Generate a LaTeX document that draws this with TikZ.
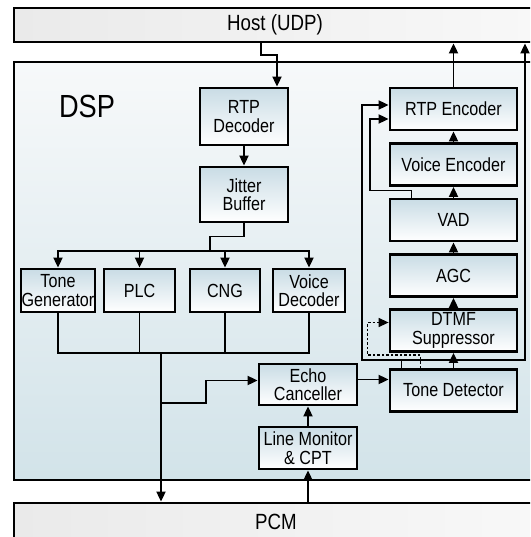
\documentclass[tikz,border=0pt]{standalone}
\usepackage{fontspec}
\setmainfont[FakeStretch=0.85]{Liberation Sans}
\usetikzlibrary{arrows.meta, calc, positioning}
\definecolor{boxtop}{HTML}{C9DCE5}
\definecolor{dsptop}{HTML}{F7F9FA}
\definecolor{dspbot}{HTML}{D2E3E9}
\definecolor{barleft}{HTML}{EAEAEA}
\definecolor{barright}{HTML}{F8F8F8}

\begin{document}
\begin{tikzpicture}[x=1pt, y=-1pt,
  blk/.style={shape=rectangle, draw=black, line width=2.8pt, top color=boxtop, bottom color=white, inner sep=0pt, align=center, font=\fontsize{19}{18.5}\selectfont},
  bar/.style={shape=rectangle, draw=black, line width=2.8pt, left color=barleft, right color=barright, inner sep=0pt, font=\fontsize{22}{22}\selectfont},
  wire/.style={line width=1.8pt, line cap=rect},
  arr/.style={line width=1.8pt, -{Triangle[length=10pt,width=9pt]}}]
\clip (0,0) rectangle (530,537);
% host, dsp and pcm areas
\node[bar, minimum width=522, minimum height=34] (host) at (275,25) {Host (UDP)};
\node[shape=rectangle, draw=black, line width=2.8pt, top color=dsptop, bottom color=dspbot, minimum width=531, minimum height=418] (dsp) at (279.5,271) {};
\node[bar, minimum width=524, minimum height=38] (pcm) at (276,522) {PCM};
\node[font=\fontsize{32}{32}\selectfont] (dsplabel) at (87,106) {DSP};

% receive side
\node[blk, minimum width=88, minimum height=57] (rtpdec) at (244,116.5) {RTP\\Decoder};
\node[blk, minimum width=88, minimum height=55] (jitter) at (244,194.5) {Jitter\\Buffer};
\node[blk, minimum width=74, minimum height=43] (tonegen) at (58,290.5) {Tone\\Generator};
\node[blk, minimum width=71, minimum height=43] (plc) at (139.5,290.5) {PLC};
\node[blk, minimum width=70, minimum height=43] (cng) at (225,290.5) {CNG};
\node[blk, minimum width=72, minimum height=43] (voicedec) at (309,290.5) {Voice\\Decoder};

% line side
\node[blk, minimum width=98, minimum height=41] (echo) at (308,384.5) {Echo\\Canceller};
\node[blk, minimum width=98, minimum height=42] (linemon) at (308,448) {Line Monitor\\\& CPT};

% send side
\foreach \n/\t/\y in {rtpenc/RTP Encoder/109, voiceenc/Voice Encoder/164.5, vad/VAD/220, agc/AGC/275.5, dtmf/{DTMF\\Suppressor}/330.5, tonedet/Tone Detector/390.5}{
	\node[blk, minimum width=127, minimum height=42] (\n) at (453.5,\y) {\t};
}

% connectors
\draw[arr] ([xshift=-14]host.south) -- ++(0,12) -| ([xshift=33]rtpdec.north);
\draw[arr] (rtpdec) -- (jitter);
\coordinate (split) at (210,251);
\draw[wire] (jitter.south) -- ++(0,13) -| (split);
\draw[wire] (tonegen.north |- split) -- (voicedec.north |- split);
\coordinate (merge) at (161,353);
\foreach \n in {tonegen,plc,cng,voicedec}{
	\draw[arr] (\n.north |- split) -- (\n.north);
	\draw[wire] (\n.south) -- (\n.south |- merge);
}
\draw[wire] (tonegen.south |- merge) -- (voicedec.south |- merge);
\draw[arr] (merge) -- (merge |- pcm.north);
\coordinate (tap) at (161,403);
\draw[arr] (tap) -- ++(45,0) |- ([yshift=4]echo.west);
\draw[arr] (linemon.south |- pcm.north) -- (linemon.south);
\draw[arr] (linemon) -- (echo);
\draw[arr] ([yshift=5]echo.east) -- ([yshift=11]tonedet.west);

\foreach \a/\b in {tonedet/dtmf, dtmf/agc, agc/vad, vad/voiceenc, voiceenc/rtpenc}{
	\draw[arr] (\a) -- (\b);
}
\draw[arr] (rtpenc.north) -- (rtpenc.north |- host.south);
\draw[arr] ([xshift=-52]tonedet.north) -- ++(0,-8) coordinate (tdup) -| ([xshift=-27,yshift=4]rtpenc.west) -- ([yshift=4]rtpenc.west);
\draw[arr] (tdup) -| ([xshift=250]host.south);
\draw[arr] ([xshift=-42]vad.north) -- ++(0,-7) -| ([xshift=-19,yshift=-10]rtpenc.west) -- ([yshift=-10]rtpenc.west);
\draw[arr, line width=1.4pt, dash pattern=on 2.5pt off 2pt] ([xshift=-33]tonedet.north) -- ++(0,-13) -| ([xshift=-21,yshift=8]dtmf.west) -- ([yshift=8]dtmf.west);
\end{tikzpicture}
\end{document}
